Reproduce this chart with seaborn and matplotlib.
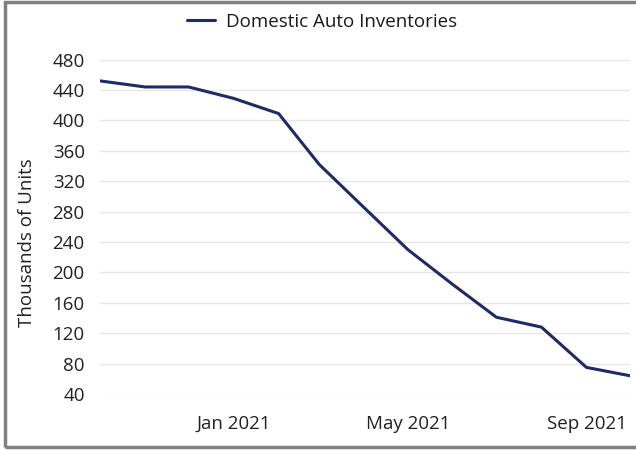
import matplotlib
matplotlib.use("Agg")
import matplotlib.pyplot as plt
from matplotlib.patches import Rectangle
import seaborn as sns
import pandas as pd

dates = ["2020-10-01", "2020-11-01", "2020-12-01", "2021-01-01", "2021-02-01",
         "2021-03-01", "2021-04-01", "2021-05-01", "2021-06-01", "2021-07-01",
         "2021-08-01", "2021-09-01", "2021-10-01"]
inventories = [452, 444, 444, 429, 409, 342, 285, 230, 184, 141, 128, 75, 64]
series_name = "Domestic Auto Inventories"
y_ticks = [40, 80, 120, 160, 200, 240, 280, 320, 360, 400, 440, 480]
x_ticks = ["2021-01-01", "2021-05-01", "2021-09-01"]
x_ticklabels = ["Jan 2021", "May 2021", "Sep 2021"]

df = pd.DataFrame({"date": pd.to_datetime(dates), "value": inventories, "series": series_name})

sns.set_theme(style="white")
plt.rcParams["font.family"] = ["Open Sans", "DejaVu Sans"]

fig = plt.figure(figsize=(6.36, 4.5), dpi=100)
ax = fig.add_axes([100 / 636, 1 - 394 / 450, 530 / 636, (394 - 52) / 450])

sns.lineplot(data=df, x="date", y="value", hue="series", palette=["#1f2a66"],
             linewidth=2.2, ax=ax)

ax.set_ylim(40, 490)
ax.set_yticks(y_ticks)
ax.set_xlim(pd.Timestamp("2020-10-01"), pd.Timestamp("2021-10-01"))
ax.set_xticks(pd.to_datetime(x_ticks))
ax.set_xticklabels(x_ticklabels)
ax.grid(axis="y", color="#e6e6e6", linewidth=1)
ax.grid(axis="x", visible=False)
for s in ax.spines.values():
    s.set_visible(False)
ax.tick_params(axis="x", length=13, width=1, color="#e0e0e0", labelsize=13.5,
               labelcolor="#222222", pad=2, direction="out")
ax.tick_params(axis="y", length=0, labelsize=13.5, labelcolor="#222222", pad=11)
ax.set_xlabel("")
ax.set_ylabel("Thousands of Units", fontsize=13.5, color="#222222")
ax.yaxis.set_label_coords(-0.120, 0.444)

leg = ax.legend(loc="center", bbox_to_anchor=(322 / 636, 1 - 22 / 450),
                bbox_transform=fig.transFigure, frameon=False, fontsize=13.5,
                handlelength=1.5, handletextpad=0.6)
for t in leg.get_texts():
    t.set_color("#1a1a1a")

fig.patches.append(Rectangle((5 / 636, 3 / 450), 1.0, 1 - 5 / 450,
                             transform=fig.transFigure, fill=False,
                             edgecolor="#808080", linewidth=2.5))

fig.savefig("out.png", dpi=100)
